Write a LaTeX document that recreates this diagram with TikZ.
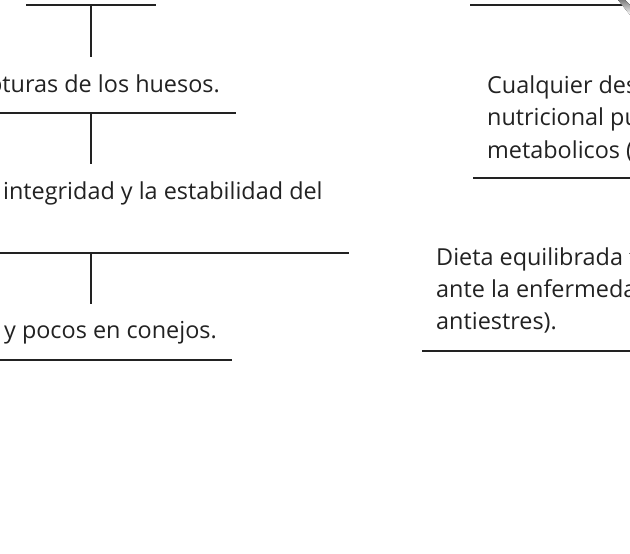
\documentclass[tikz,border=0pt]{standalone}
\usepackage{fontspec}
\setmainfont{Open Sans}[Ligatures=NoCommon]
\definecolor{ink}{HTML}{222222}
\definecolor{shade}{HTML}{E6E6E6}
\tikzset{
  rule/.style={line width=1.6pt, draw=ink},
  txt/.style={inner sep=0pt, text=ink, font=\fontsize{23.4}{32}\selectfont},
}
\begin{document}
\begin{tikzpicture}[x=1pt,y=-1pt]
\useasboundingbox (0,0) rectangle (630,554);
\fill[white] (0,0) rectangle (630,554);
\clip (0,0) rectangle (630,554);
% left column text nodes
\node[txt, anchor=base east] (t1) at (220,92) {pturas de los huesos.};
\node[txt, anchor=base west] (t2) at (3,199) {integridad y la estabilidad del};
\node[txt, anchor=base east] (t3) at (217,338) {y pocos en conejos.};
% right column text nodes
\node[txt, anchor=base west] (r1) at (487,93) {Cualquier des};
\node[txt, anchor=base west] (r2) at (487,125.5) {nutricional pu};
\node[txt, anchor=base west] (r3) at (487,158) {metabolicos (};
\node[txt, anchor=base west] (d1) at (436,265) {Dieta equilibrada f};
\node[txt, anchor=base west] (d2) at (436,297) {ante la enfermedad};
\node[txt, anchor=base west] (d3) at (436,329) {antiestres).};
% coordinates of rules
\coordinate (a1) at (26,5);   \coordinate (b1) at (156,5);
\coordinate (a2) at (0,113);  \coordinate (b2) at (236,113);
\coordinate (a3) at (0,253);  \coordinate (b3) at (349,253);
\coordinate (a4) at (0,360);  \coordinate (b4) at (232,360);
\coordinate (s1) at (91,5);   \coordinate (e1) at (91,57);
\coordinate (s2) at (91,113); \coordinate (e2) at (91,164);
\coordinate (s3) at (91,253); \coordinate (e3) at (91,304);
\coordinate (p1) at (470,5);   \coordinate (q1) at (630,5);
\coordinate (p2) at (473,178); \coordinate (q2) at (630,178);
\coordinate (p3) at (422,351); \coordinate (q3) at (630,351);
% rules
\draw[rule] (a1) -- (b1);
\draw[rule] (a2) -- (b2);
\draw[rule] (a3) -- (b3);
\draw[rule] (a4) -- (b4);
\draw[rule] (s1) -- (e1);
\draw[rule] (s2) -- (e2);
\draw[rule] (s3) -- (e3);
\draw[rule] (p1) -- (q1);
\draw[rule] (p2) -- (q2);
\draw[rule] (p3) -- (q3);
% light grey corner band
\fill[shade] (618,0) -- (625,0) -- (630,5) -- (630,15) -- cycle;
\end{tikzpicture}
\end{document}
